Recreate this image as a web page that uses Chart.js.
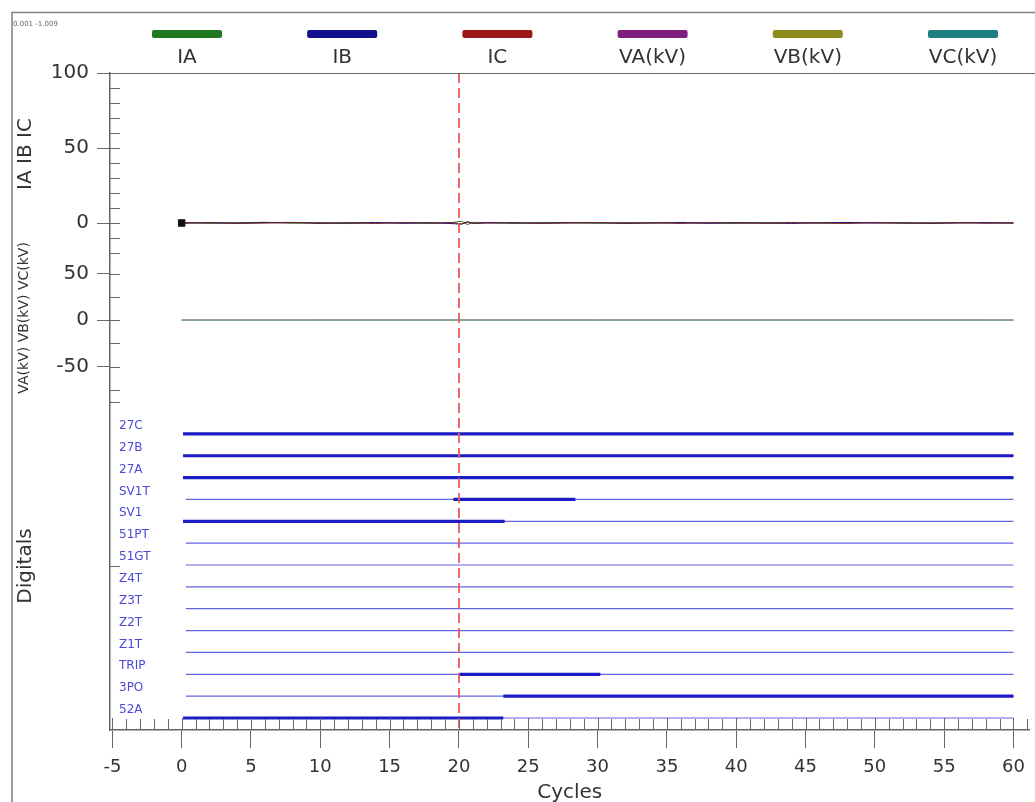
<!DOCTYPE html>
<html><head><meta charset="utf-8">
<script src="https://cdn.jsdelivr.net/npm/chart.js@4"></script>
<style>html,body{margin:0;padding:0;background:#fff;}canvas{display:block;}</style>
</head><body>
<canvas id="c" width="1035" height="802"></canvas>
<script>
const FONT = '"DejaVu Sans", Arial, sans-serif';

// ---- data ----
const seriesNames = ['IA', 'IB', 'IC', 'VA(kV)', 'VB(kV)', 'VC(kV)'];
const seriesColors = ['#1f7a1f', '#10108c', '#9a1818', '#7e1f7e', '#8c8c1e', '#1f7f7f'];

const currentTime = [0,2,4,6,8,10,12,14,16,18,19.5,20.2,20.6,21.1,22,24,26,28,30,32,34,36,38,40,42,44,46,48,50,52,54,56,58,60];
const iaValues = [0.4,-0.3,0.2,0.5,-0.2,0.3,-0.4,0.2,0.1,-0.3,0.3,1.2,-1.0,0.5,0.2,-0.3,0.4,0.1,-0.2,0.3,-0.1,0.4,0.0,-0.3,0.2,0.3,-0.2,0.1,0.4,-0.3,0.2,0.0,0.3,-0.1];
const ibValues = [-0.2,0.3,-0.1,0.2,0.4,-0.3,0.1,0.3,-0.2,0.2,-0.4,-0.8,0.9,-0.4,0.3,0.1,-0.2,0.3,0.2,-0.3,0.1,0.2,-0.2,0.3,0.0,-0.3,0.2,0.4,-0.1,0.2,-0.3,0.1,0.2,0.0];
const icValues = [0.1,0.2,-0.3,0.0,0.3,-0.1,0.2,-0.3,0.3,0.1,0.2,-0.6,0.5,-0.2,-0.1,0.3,-0.2,0.0,0.3,-0.1,0.2,-0.3,0.3,0.1,-0.2,0.2,0.1,-0.3,0.2,0.1,-0.1,0.3,-0.2,0.1];
const markerTime = [0];
const markerValue = [0];

const voltageTime = [0, 60];
const vaValues = [0, 0];
const vbValues = [0, 0];
const vcValues = [0, 0];

const digitalNames = ['27C','27B','27A','SV1T','SV1','51PT','51GT','Z4T','Z3T','Z2T','Z1T','TRIP','3PO','52A'];
const digitalStart = [0.1, 0.1, 0.1, 19.6, 0.1, null, null, null, null, null, null, 20.0, 23.2, 0.1];
const digitalEnd   = [60,  60,  60,  28.4, 23.3, null, null, null, null, null, null, 30.2, 60,   23.2];
const digitalBaseStart = 0.3;
const digitalBaseEnd = 60;

const xTicks = [-5,0,5,10,15,20,25,30,35,40,45,50,55,60];
const currentTicks = [100, 50, 0];
const currentMinorTicks = [100,90,80,70,60,50,40,30,20,10,0,-10,-20];
const voltageTicks = [50, 0, -50];
const voltageMinorTicks = [50,25,0,-25,-50,-75];
const digitalTickMarks = [14.46, 6.96];
const cursorCycle = 20;
const headerText = '0.001 -1.009';

// ---- datasets ----
const pts = (xs, ys) => xs.map((t, i) => ({x: t, y: ys[i]}));
const datasets = [];
datasets.push({label: 'marker', data: pts(markerTime, markerValue), yAxisID: 'yCur', showLine: false,
  pointStyle: 'rect', pointRadius: 4.6, backgroundColor: '#111', borderColor: '#111', borderWidth: 1});
datasets.push({label: seriesNames[2], data: pts(currentTime, icValues), yAxisID: 'yCur', borderColor: '#7a1c1c', borderWidth: 1});
datasets.push({label: seriesNames[1], data: pts(currentTime, ibValues), yAxisID: 'yCur', borderColor: seriesColors[1], borderWidth: 1});
datasets.push({label: seriesNames[0], data: pts(currentTime, iaValues), yAxisID: 'yCur', borderColor: seriesColors[0], borderWidth: 1});
datasets.push({label: seriesNames[5], data: pts(voltageTime, vcValues), yAxisID: 'yVolt', borderColor: '#7fb0aa', borderWidth: 1.2});
datasets.push({label: seriesNames[4], data: pts(voltageTime, vbValues), yAxisID: 'yVolt', borderColor: seriesColors[4], borderWidth: 1});
datasets.push({label: seriesNames[3], data: pts(voltageTime, vaValues), yAxisID: 'yVolt', borderColor: seriesColors[3], borderWidth: 1});
const nDig = digitalNames.length;
digitalNames.forEach((name, i) => {
  const lvl = nDig - 1 - i;
  if (digitalStart[i] !== null) {
    datasets.push({label: name + ' on', data: [{x: digitalStart[i], y: lvl}, {x: digitalEnd[i], y: lvl}],
      yAxisID: 'yDig', borderColor: '#1c1cc4', borderWidth: 3.2, borderCapStyle: 'butt'});
  }
});
digitalNames.forEach((name, i) => {
  const lvl = nDig - 1 - i;
  datasets.push({label: name, data: [{x: digitalBaseStart, y: lvl}, {x: digitalBaseEnd, y: lvl}],
    yAxisID: 'yDig', borderColor: '#6464e0', borderWidth: 1.2});
});

const setTicks = arr => s => { s.ticks = arr.map(v => ({value: v})); };

const overlay = {
  id: 'overlay',
  afterDatasetsDraw(chart) {
    const {ctx, chartArea: a, scales} = chart;
    const x = scales.x;
    ctx.save();
    // cursor line
    ctx.strokeStyle = '#e85a5a'; ctx.lineWidth = 1.8; ctx.setLineDash([10, 5]);
    const cx = Math.round(x.getPixelForValue(cursorCycle));
    ctx.beginPath(); ctx.moveTo(cx, a.top); ctx.lineTo(cx, a.bottom); ctx.stroke();
    ctx.setLineDash([]);
    // x inside ticks
    ctx.strokeStyle = '#666'; ctx.lineWidth = 1;
    ctx.beginPath();
    for (let v = -5; v <= 61; v++) {
      const px = Math.round(x.getPixelForValue(v)) + 0.5;
      const len = (v % 5 === 0) ? 12 : 11;
      ctx.moveTo(px, a.bottom); ctx.lineTo(px, a.bottom - len);
    }
    // y inside ticks
    const yl = a.left;
    currentMinorTicks.forEach(v => { const py = Math.round(scales.yCur.getPixelForValue(v)) + 0.5; ctx.moveTo(yl, py); ctx.lineTo(yl + 10, py); });
    voltageMinorTicks.forEach(v => { const py = Math.round(scales.yVolt.getPixelForValue(v)) + 0.5; ctx.moveTo(yl, py); ctx.lineTo(yl + 10, py); });
    digitalTickMarks.forEach(v => { const py = Math.round(scales.yDig.getPixelForValue(v)) + 0.5; ctx.moveTo(yl, py); ctx.lineTo(yl + 10, py); });
    ctx.stroke();
    // digital labels
    ctx.fillStyle = '#4a4ad6'; ctx.font = '12px ' + FONT; ctx.textAlign = 'left'; ctx.textBaseline = 'middle';
    digitalNames.forEach((name, i) => {
      const py = scales.yDig.getPixelForValue(nDig - 1 - i);
      ctx.fillText(name, yl + 9, py - 8);
    });
    ctx.restore();
  },
  afterDraw(chart) {
    const {ctx, chartArea: a, scales} = chart;
    ctx.save();
    // frame
    ctx.strokeStyle = '#808080'; ctx.lineWidth = 1.5;
    ctx.beginPath();
    ctx.moveTo(12, 802); ctx.lineTo(12, 12.5); ctx.lineTo(1035, 12.5);
    ctx.stroke();
    ctx.lineWidth = 1.2; ctx.strokeStyle = '#666';
    const ty = Math.round(scales.yCur.getPixelForValue(100)) + 0.5;
    ctx.beginPath(); ctx.moveTo(a.left, ty); ctx.lineTo(1035, ty); ctx.stroke();
    // header text
    ctx.fillStyle = '#666'; ctx.font = '7px ' + FONT; ctx.textAlign = 'left'; ctx.textBaseline = 'middle';
    ctx.fillText(headerText, 13, 24);
    // legend
    ctx.font = '20px ' + FONT; ctx.textAlign = 'center'; ctx.textBaseline = 'middle';
    seriesNames.forEach((name, i) => {
      const cxp = 187 + i * 155.2;
      ctx.fillStyle = seriesColors[i];
      ctx.beginPath();
      if (ctx.roundRect) ctx.roundRect(cxp - 35, 30, 70, 8, 2); else ctx.rect(cxp - 35, 30, 70, 8);
      ctx.fill();
      ctx.fillStyle = '#333';
      ctx.fillText(name, cxp, 58);
    });
    ctx.restore();
  }
};

const axisFont = {family: FONT, size: 20};
new Chart(document.getElementById('c'), {
  type: 'line',
  data: {datasets},
  options: {
    responsive: false, animation: false, devicePixelRatio: 1,
    layout: {padding: {top: 73, right: 2, left: 0, bottom: 0}},
    elements: {point: {radius: 0}, line: {tension: 0}},
    plugins: {legend: {display: false}, tooltip: {enabled: false}},
    scales: {
      x: {
        type: 'linear', position: 'bottom', min: -5.17, max: 61.15,
        afterBuildTicks: setTicks(xTicks),
        afterFit: s => { s.height = 72; },
        ticks: {font: {family: FONT, size: 18}, color: '#333', padding: 9, autoSkip: false, maxRotation: 0},
        grid: {drawOnChartArea: false, tickLength: 18, color: '#666', tickColor: '#666'},
        border: {color: '#666', width: 1.5},
        title: {display: true, text: 'Cycles', font: axisFont, color: '#333', padding: {top: 0, bottom: -3}}
      },
      yCur: {
        type: 'linear', position: 'left', stack: 'left', stackWeight: 187.5, weight: 3, min: -25, max: 100,
        afterBuildTicks: setTicks(currentTicks),
        afterFit: s => { s.width = 110; },
        ticks: {font: axisFont, color: '#333', padding: 8},
        grid: {drawOnChartArea: false, tickLength: 13, color: '#666'},
        border: {color: '#666', width: 1.5},
        title: {display: true, text: '    IA IB IC', font: axisFont, color: '#333', padding: {top: 14, bottom: 0}}
      },
      yVolt: {
        type: 'linear', position: 'left', stack: 'left', stackWeight: 141.5, weight: 2, min: -88, max: 64,
        afterBuildTicks: setTicks(voltageTicks),
        afterFit: s => { s.width = 110; },
        ticks: {font: axisFont, color: '#333', padding: 8},
        grid: {drawOnChartArea: false, tickLength: 13, color: '#666'},
        border: {color: '#666', width: 1.5},
        title: {display: true, text: '      VA(kV) VB(kV) VC(kV)', font: {family: FONT, size: 14}, color: '#333', padding: {top: 16, bottom: 0}}
      },
      yDig: {
        type: 'linear', position: 'left', stack: 'left', stackWeight: 328, weight: 1, min: -0.55, max: 14.46,
        afterBuildTicks: s => { s.ticks = []; },
        afterFit: s => { s.width = 110; },
        ticks: {display: false},
        grid: {drawOnChartArea: false, tickLength: 13, color: '#666'},
        border: {color: '#666', width: 1.5},
        title: {display: true, text: 'Digitals', font: axisFont, color: '#333', padding: {top: 14, bottom: 0}}
      }
    }
  },
  plugins: [overlay]
});
</script>
</body></html>
